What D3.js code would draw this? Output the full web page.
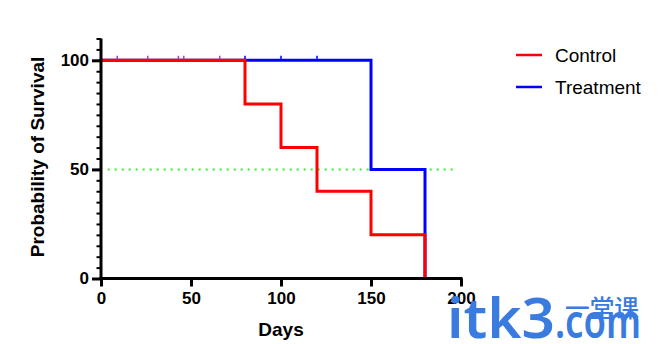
<!DOCTYPE html>
<html>
<head>
<meta charset="utf-8">
<script src="https://cdn.jsdelivr.net/npm/d3@7"></script>
<style>
  html, body { margin: 0; padding: 0; background: #fff; }
  svg { display: block; font-family: "Liberation Sans", Arial, sans-serif; }
</style>
</head>
<body>
<svg id="chart" width="659" height="344"></svg>
<script>
/* Kaplan-Meier survival: Control vs Treatment */
var controlDays = [0, 80, 100, 120, 150, 180];
var controlSurv = [100, 80, 60, 40, 20, 0];
var treatDays = [0, 150, 180];
var treatSurv = [100, 50, 0];
var censorDays = [9, 26, 43, 46, 66];       // marks under the red line
var treatCensorDays = [80, 100, 120];
var xTicks = [0, 50, 100, 150, 200];
var yTicks = [0, 50, 100];
var medianLevel = 50;

(function () {
  'use strict';
  var svg = d3.select('#chart');
  var x = d3.scaleLinear().domain([0, 200]).range([101, 461]);
  var y = d3.scaleLinear().domain([0, 110]).range([278.5, 38.5]);

  var RED = '#ff0000', BLUE = '#0000ff';

  /* step path helper */
  function stepPath(days, surv) {
    var pts = [];
    for (var i = 0; i < days.length; i++) {
      if (i > 0) pts.push([days[i], surv[i - 1]]);
      pts.push([days[i], surv[i]]);
    }
    return d3.line().x(function (d) { return x(d[0]); }).y(function (d) { return y(d[1]); })(pts);
  }

  /* median reference line */
  svg.append('line')
    .attr('x1', x(3.7)).attr('x2', x(198)).attr('y1', y(medianLevel)).attr('y2', y(medianLevel))
    .attr('stroke', '#33ee33').attr('stroke-width', 2).attr('stroke-dasharray', '2,5');

  /* treatment curve (under) */
  svg.append('path').attr('d', stepPath(treatDays, treatSurv))
    .attr('fill', 'none').attr('stroke', BLUE).attr('stroke-width', 3);
  svg.selectAll('.tc').data(treatCensorDays).enter().append('line')
    .attr('x1', function (d) { return x(d); }).attr('x2', function (d) { return x(d); })
    .attr('y1', y(100) - 4.5).attr('y2', y(100))
    .attr('stroke', BLUE).attr('stroke-width', 1.5);

  /* control curve */
  svg.append('path').attr('d', stepPath(controlDays, controlSurv))
    .attr('fill', 'none').attr('stroke', RED).attr('stroke-width', 3);
  svg.selectAll('.cc').data(censorDays).enter().append('line')
    .attr('x1', function (d) { return x(d); }).attr('x2', function (d) { return x(d); })
    .attr('y1', y(100) - 4.5).attr('y2', y(100) - 1)
    .attr('stroke', '#a040c0').attr('stroke-width', 1.5);

  /* axes */
  var axisCol = '#000';
  var xAxis = d3.axisBottom(x).tickValues(xTicks).tickSize(8).tickPadding(5);
  var gx = svg.append('g').attr('transform', 'translate(0,' + y(0) + ')').call(xAxis);
  gx.select('.domain').attr('stroke', axisCol).attr('stroke-width', 3)
    .attr('d', 'M' + (x(0) - 1.5) + ',0H' + (x(200) + 1.5));
  gx.selectAll('.tick line').attr('stroke', axisCol).attr('stroke-width', 3);
  gx.selectAll('.tick text').attr('fill', '#000').style('font-size', '17px').style('font-weight', 'bold')
    .style('font-family', '"Liberation Sans", Arial, sans-serif');

  var yMinor = d3.range(0, 111, 5);
  var yAxisMinor = d3.axisLeft(y).tickValues(yMinor).tickSize(4.5).tickFormat('');
  var gym = svg.append('g').attr('transform', 'translate(' + x(0) + ',0)').call(yAxisMinor);
  gym.select('.domain').remove();
  gym.selectAll('.tick line').attr('stroke', axisCol).attr('stroke-width', 2);

  var yAxis = d3.axisLeft(y).tickValues(yTicks).tickSize(9).tickPadding(3);
  var gy = svg.append('g').attr('transform', 'translate(' + x(0) + ',0)').call(yAxis);
  gy.select('.domain').attr('stroke', axisCol).attr('stroke-width', 3)
    .attr('d', 'M0,' + y(110) + 'V' + (y(0) + 1.5));
  gy.selectAll('.tick line').attr('stroke', axisCol).attr('stroke-width', 3);
  gy.selectAll('.tick text').attr('fill', '#000').style('font-size', '17px').style('font-weight', 'bold')
    .style('font-family', '"Liberation Sans", Arial, sans-serif');

  /* axis titles */
  svg.append('text').attr('x', 281).attr('y', 336).attr('text-anchor', 'middle')
    .style('font-size', '19px').style('font-weight', 'bold').text('Days');
  svg.append('text').attr('transform', 'translate(44,157) rotate(-90)').attr('text-anchor', 'middle')
    .style('font-size', '19px').style('font-weight', 'bold').text('Probability of Survival');

  /* legend */
  var legend = [{ name: 'Control', color: RED }, { name: 'Treatment', color: BLUE }];
  var lg = svg.selectAll('.lg').data(legend).enter().append('g')
    .attr('transform', function (d, i) { return 'translate(516,' + (55 + i * 32) + ')'; });
  lg.append('line').attr('x1', 0).attr('x2', 26).attr('y1', 0).attr('y2', 0)
    .attr('stroke', function (d) { return d.color; }).attr('stroke-width', 2.5);
  lg.append('text').attr('x', 39).attr('y', 0).attr('dy', '0.36em')
    .style('font-size', '19px').text(function (d) { return d.name; });

  /* watermark */
  var wm = svg.append('g').attr('fill', '#3a7be0')
    .style('font-family', '"Noto Sans", sans-serif').style('font-weight', '600');
  wm.append('text').attr('x', 447).attr('y', 338).style('font-size', '56px')
    .attr('textLength', 108).attr('lengthAdjust', 'spacingAndGlyphs').text('itk3');
  wm.append('text').attr('x', 555).attr('y', 338).style('font-size', '46px')
    .attr('textLength', 86).attr('lengthAdjust', 'spacingAndGlyphs').text('.com');
  wm.append('text').attr('x', 565).attr('y', 317).style('font-size', '24px')
    .style('font-family', '"Noto Sans CJK SC", sans-serif').style('font-weight', '500')
    .attr('textLength', 74).attr('lengthAdjust', 'spacingAndGlyphs').text('一堂课');
})();
</script>
</body>
</html>
